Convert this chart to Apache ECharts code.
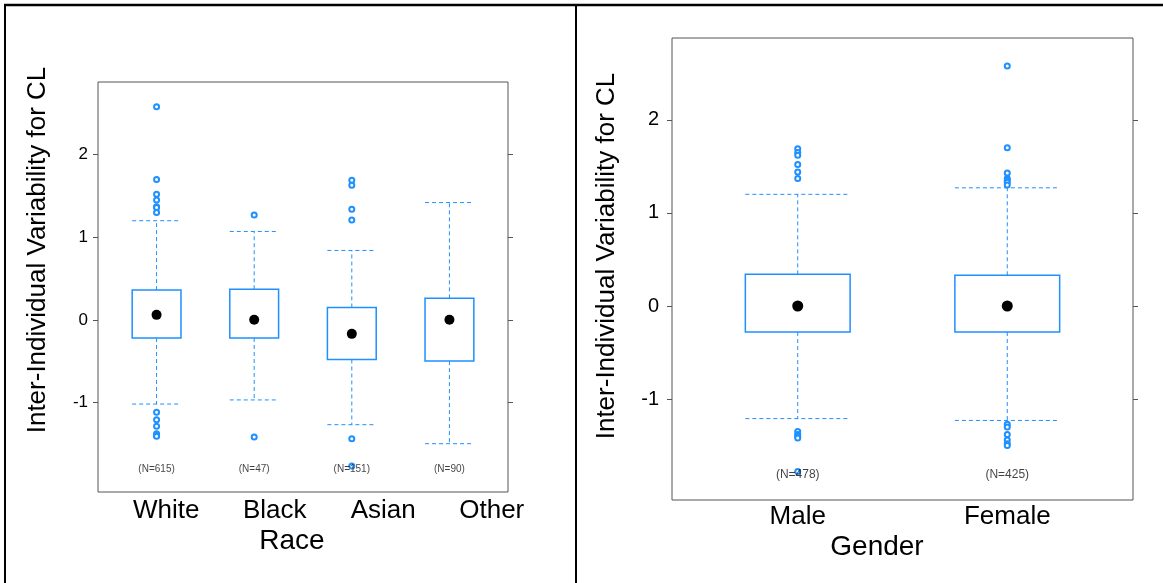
<!DOCTYPE html>
<html>
<head>
<meta charset="utf-8">
<script src="https://cdn.jsdelivr.net/npm/echarts@6/dist/echarts.min.js"></script>
<style>
html,body{margin:0;padding:0;background:#fff;}
#chart{width:1163px;height:583px;}
</style>
</head>
<body>
<div id="chart"></div>
<script>
// ---------- data ----------
const raceCats = ['White', 'Black', 'Asian', 'Other'];
const raceN = ['(N=615)', '(N=47)', '(N=151)', '(N=90)'];
// [lower whisker, Q1, median, Q3, upper whisker]
const raceBox = [
  [-1.02, -0.22, 0.06, 0.36, 1.20],
  [-0.97, -0.22, 0.00, 0.37, 1.07],
  [-1.27, -0.48, -0.17, 0.15, 0.84],
  [-1.50, -0.50, 0.00, 0.26, 1.42]
];
const raceOutliers = [
  [2.58, 1.70, 1.52, 1.45, 1.37, 1.36, 1.30, -1.12, -1.21, -1.29, -1.38, -1.40, -1.41],
  [1.27, -1.42],
  [1.69, 1.63, 1.34, 1.21, -1.44, -1.77],
  []
];

const genderCats = ['Male', 'Female'];
const genderN = ['(N=478)', '(N=425)'];
const genderBox = [
  [-1.21, -0.28, 0.00, 0.34, 1.20],
  [-1.23, -0.28, 0.00, 0.33, 1.27]
];
const genderOutliers = [
  [1.69, 1.65, 1.62, 1.52, 1.44, 1.37, -1.35, -1.38, -1.40, -1.42, -1.78],
  [2.58, 1.70, 1.43, 1.37, 1.35, 1.33, 1.30, -1.27, -1.30, -1.38, -1.44, -1.48, -1.50]
];

const yTicks = [-1, 0, 1, 2];
const yMin = -2.085, yMax = 2.88;
const nLabelY = -1.81;
const yTitle = 'Inter-Individual Variability for CL';

// ---------- helpers ----------
const BLUE = '#1e90ff';
const boxData = arr => arr.map((b, i) => [i + 1].concat(b));
const outData = arr => {
  const out = [];
  arr.forEach((vals, i) => vals.forEach(v => out.push([i + 1, v])));
  return out;
};
const medData = arr => arr.map((b, i) => [i + 1, b[2]]);
const nData = arr => arr.map((t, i) => ({ value: [i + 1, nLabelY], name: t }));

function renderBox(params, api) {
  const x = api.value(0);
  const lo = api.coord([x, api.value(1)]);
  const q1 = api.coord([x, api.value(2)]);
  const q3 = api.coord([x, api.value(4)]);
  const hi = api.coord([x, api.value(5)]);
  const l = api.coord([x - 0.25, 0])[0];
  const r = api.coord([x + 0.25, 0])[0];
  const cx = lo[0];
  const dash = { stroke: BLUE, lineWidth: 1, lineDash: [4, 3], fill: null };
  return {
    type: 'group',
    children: [
      { type: 'line', shape: { x1: cx, y1: q3[1], x2: cx, y2: hi[1] }, style: dash },
      { type: 'line', shape: { x1: cx, y1: q1[1], x2: cx, y2: lo[1] }, style: dash },
      { type: 'line', shape: { x1: l, y1: hi[1], x2: r, y2: hi[1] }, style: dash },
      { type: 'line', shape: { x1: l, y1: lo[1], x2: r, y2: lo[1] }, style: dash },
      { type: 'rect', shape: { x: l, y: q3[1], width: r - l, height: q1[1] - q3[1] },
        style: { fill: '#fff', stroke: BLUE, lineWidth: 1.5 } }
    ]
  };
}

function yAxisLeft(grid, fs, margin) {
  return {
    type: 'value', gridIndex: grid, position: 'left', min: yMin, max: yMax,
    axisLine: { show: false }, splitLine: { show: false },
    axisTick: { show: true, inside: false, length: 5, customValues: yTicks, lineStyle: { color: '#555', width: 1 } },
    axisLabel: { show: true, customValues: yTicks, fontSize: fs, color: '#000', margin: margin, fontFamily: 'Liberation Sans, Arial, sans-serif' }
  };
}
function yAxisRight(grid) {
  return {
    type: 'value', gridIndex: grid, position: 'right', min: yMin, max: yMax,
    axisLine: { show: false }, splitLine: { show: false },
    axisTick: { show: true, inside: false, length: 5, customValues: yTicks, lineStyle: { color: '#555', width: 1 } },
    axisLabel: { show: false }
  };
}

function panelSeries(xi, yi, box, outs, nlabels, medSize, nFont) {
  return [
    { type: 'custom', xAxisIndex: xi, yAxisIndex: yi, data: boxData(box), renderItem: renderBox,
      encode: { x: 0, y: [1, 2, 3, 4, 5] }, z: 2, silent: true },
    { type: 'scatter', xAxisIndex: xi, yAxisIndex: yi, data: outData(outs),
      symbol: 'emptyCircle', symbolSize: 5, itemStyle: { color: BLUE, borderWidth: 1, opacity: 1 }, z: 3, silent: true },
    { type: 'scatter', xAxisIndex: xi, yAxisIndex: yi, data: medData(box),
      symbol: 'circle', symbolSize: medSize, itemStyle: { color: '#000', opacity: 1 }, z: 4, silent: true },
    { type: 'scatter', xAxisIndex: xi, yAxisIndex: yi, data: nData(nlabels),
      symbolSize: 1, itemStyle: { color: 'rgba(0,0,0,0)' }, z: 5, silent: true,
      label: { show: true, position: 'inside', formatter: p => p.name, fontSize: nFont, color: '#111',
        fontFamily: 'Liberation Sans, Arial, sans-serif' } }
  ];
}

const chart = echarts.init(document.getElementById('chart'), null, { renderer: 'canvas' });
const FONT = 'Liberation Sans, Arial, sans-serif';

const option = {
  animation: false,
  backgroundColor: '#fff',
  grid: [
    { left: 98, top: 82, width: 410, height: 410, show: true, borderColor: '#555', borderWidth: 1, backgroundColor: 'transparent' },
    { left: 672, top: 38, width: 461, height: 462, show: true, borderColor: '#555', borderWidth: 1, backgroundColor: 'transparent' },
    { left: 112, top: 82, width: 434, height: 410, show: false }
  ],
  xAxis: [
    { type: 'value', gridIndex: 0, min: 0.4, max: 4.6, axisLine: { show: false }, axisTick: { show: false },
      axisLabel: { show: false }, splitLine: { show: false } },
    { type: 'value', gridIndex: 1, min: 0.4, max: 2.6, axisLine: { show: false }, axisTick: { show: false },
      splitLine: { show: false },
      axisLabel: { show: true, customValues: [1, 2], formatter: v => genderCats[Math.round(v) - 1] || '',
        fontSize: 26, color: '#000', margin: 4, fontFamily: FONT } },
    { type: 'category', gridIndex: 2, data: raceCats, axisLine: { show: false }, axisTick: { show: false },
      splitLine: { show: false },
      axisLabel: { show: true, fontSize: 26, color: '#000', margin: 6, fontFamily: FONT, interval: 0 } }
  ],
  yAxis: [
    yAxisLeft(0, 17, 10),
    yAxisRight(0),
    yAxisLeft(1, 20, 13),
    yAxisRight(1),
    { type: 'value', gridIndex: 2, show: false }
  ],
  series: [].concat(
    panelSeries(0, 0, raceBox, raceOutliers, raceN, 10, 10),
    panelSeries(1, 2, genderBox, genderOutliers, genderN, 11, 12)
  ),
  graphic: [
    { type: 'line', shape: { x1: 4, y1: 5, x2: 1163, y2: 5 }, style: { stroke: '#000', lineWidth: 2.5 } },
    { type: 'line', shape: { x1: 5, y1: 4, x2: 5, y2: 583 }, style: { stroke: '#000', lineWidth: 2 } },
    { type: 'line', shape: { x1: 576, y1: 4, x2: 576, y2: 583 }, style: { stroke: '#000', lineWidth: 2 } },
    { type: 'text', x: 38, y: 250, rotation: Math.PI / 2,
      style: { text: yTitle, fontSize: 26, fill: '#000', fontFamily: FONT, align: 'center', verticalAlign: 'middle' } },
    { type: 'text', x: 607, y: 256, rotation: Math.PI / 2,
      style: { text: yTitle, fontSize: 26, fill: '#000', fontFamily: FONT, align: 'center', verticalAlign: 'middle' } },
    { type: 'text', x: 292, y: 541,
      style: { text: 'Race', fontSize: 28, fill: '#000', fontFamily: FONT, align: 'center', verticalAlign: 'middle' } },
    { type: 'text', x: 877, y: 547,
      style: { text: 'Gender', fontSize: 28, fill: '#000', fontFamily: FONT, align: 'center', verticalAlign: 'middle' } }
  ]
};
chart.setOption(option);
</script>
</body>
</html>
